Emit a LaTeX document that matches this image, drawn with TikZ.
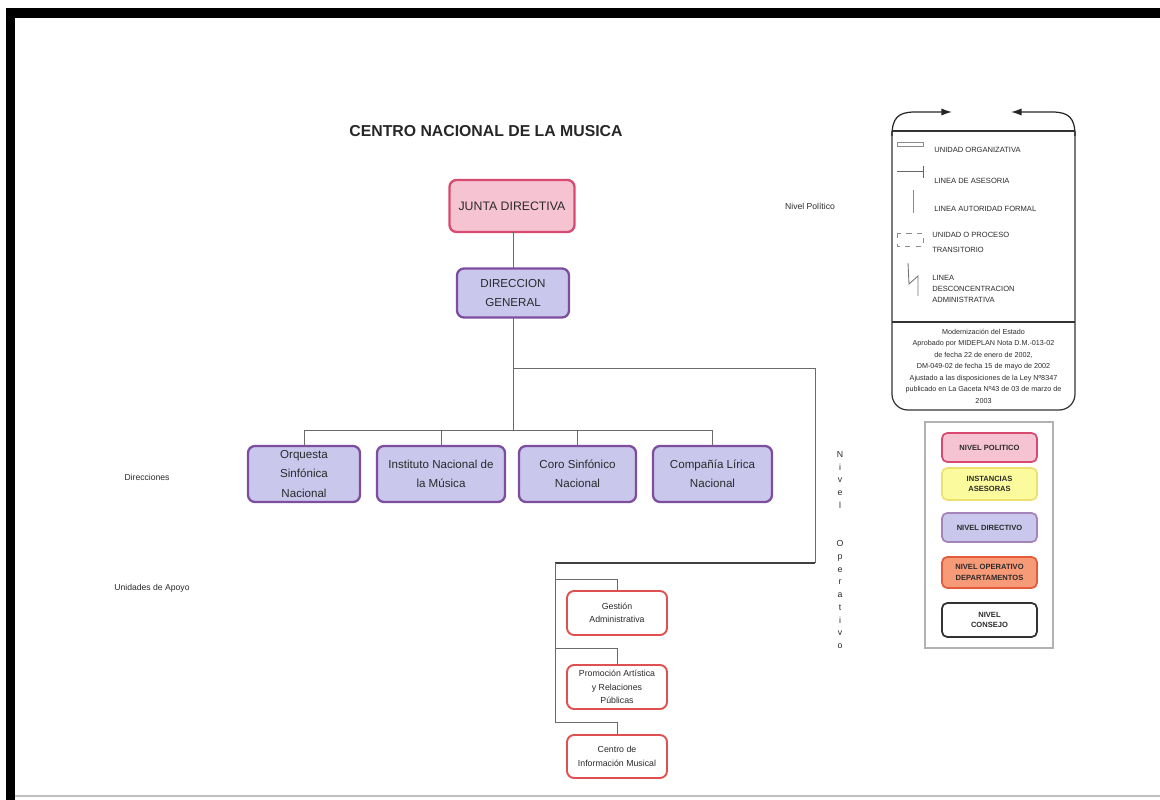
\documentclass[tikz,border=0pt]{standalone}
\usepackage{fontspec}
\setmainfont{Liberation Sans}
\usetikzlibrary{arrows.meta}
\newcommand\pxu{0.02cm}
\definecolor{pinkfill}{HTML}{F6C3D3}
\definecolor{pinkdraw}{HTML}{D84A72}
\definecolor{lavfill}{HTML}{C9C7EC}
\definecolor{lavdraw}{HTML}{7E4E9E}
\definecolor{reddraw}{HTML}{E05050}
\definecolor{yelfill}{HTML}{FBFB9E}
\definecolor{yeldraw}{HTML}{EEE070}
\definecolor{orgfill}{HTML}{F79A78}
\definecolor{orgdraw}{HTML}{E55A3A}
\definecolor{linec}{HTML}{6A6A6A}
\definecolor{txt}{HTML}{2A2A2A}
\tikzset{
  base/.style={rounded corners=4pt, align=center, inner sep=1pt, outer sep=0pt, text=txt},
  jdbox/.style={base, draw=pinkdraw, fill=pinkfill, line width=1.3pt, font=\fontsize{7}{11}\selectfont},
  dirbox/.style={base, draw=lavdraw, fill=lavfill, line width=1.3pt, font=\fontsize{6.6}{11}\selectfont},
  redbox/.style={base, draw=reddraw, fill=white, line width=1.1pt, font=\fontsize{5}{7.6}\selectfont},
  conn/.style={draw=linec, line width=0.5pt},
  small/.style={text=txt, inner sep=0pt, font=\fontsize{4.9}{6}\selectfont},
  legtxt/.style={text=txt, inner sep=0pt, anchor=west, align=left, font=\fontsize{4.3}{8.3}\selectfont},
  legbox/.style={base, rounded corners=3pt, line width=1pt, minimum width=95*\pxu, font=\bfseries\fontsize{4.3}{6}\selectfont},
}
\begin{document}
\begin{tikzpicture}[x=0.02cm,y=-0.02cm]
\useasboundingbox (0,0) rectangle (1160,800);
% frame
\fill[black] (6,8) rectangle (1160,18);
\fill[black] (6,8) rectangle (15,800);
\draw[black!25, line width=0.6pt] (15,796) -- (1160,796);

% title
\node[text=black!85, font=\bfseries\fontsize{9}{10}\selectfont] (title) at (486,131) {CENTRO NACIONAL DE LA MUSICA};

% main boxes
\node[jdbox, minimum width=125*\pxu, minimum height=52*\pxu] (jd) at (512,206) {JUNTA DIRECTIVA};
\node[dirbox, minimum width=112*\pxu, minimum height=49*\pxu] (dg) at (513,293) {DIRECCION\\GENERAL};

\node[dirbox, minimum width=112*\pxu, minimum height=56*\pxu] (orq) at (304,474) {Orquesta\\Sinfónica\\Nacional};
\node[dirbox, minimum width=128*\pxu, minimum height=56*\pxu] (ins) at (441,474) {Instituto Nacional de\\la Música};
\node[dirbox, minimum width=117*\pxu, minimum height=56*\pxu] (coro) at (577.5,474) {Coro Sinfónico\\Nacional};
\node[dirbox, minimum width=119*\pxu, minimum height=56*\pxu] (cia) at (712.5,474) {Compañía Lírica\\Nacional};

\node[redbox, minimum width=100*\pxu, minimum height=44*\pxu] (ga) at (617,613) {Gestión\\Administrativa};
\node[redbox, minimum width=100*\pxu, minimum height=44*\pxu] (pa) at (617,687) {Promoción Artística\\y Relaciones\\Públicas};
\node[redbox, minimum width=100*\pxu, minimum height=43*\pxu] (ci) at (617,756.5) {Centro de\\Información Musical};

% connector coordinates
\coordinate (bus) at (513,430);
\coordinate (r1) at (815,368);
\coordinate (r2) at (815,563);
\coordinate (l1) at (555,563);
\coordinate (b1) at (555,579);
\coordinate (b2) at (555,648);
\coordinate (b3) at (555,722);

\draw[conn] (jd.south) -- (dg.south |- jd.south) -- (dg.north);
\draw[conn] (dg.south) -- (bus);
\draw[conn] (bus -| orq.north) -- (bus -| cia.north);
\draw[conn] (bus -| orq.north) -- (orq.north);
\draw[conn] (bus -| ins.north) -- (ins.north);
\draw[conn] (bus -| coro.north) -- (coro.north);
\draw[conn] (bus -| cia.north) -- (cia.north);
\draw[conn] (dg.south |- r1) -- (r1) -- (r2);
\draw[draw=black!75, line width=0.8pt] (r2) -- (l1);
\draw[conn] (l1) -- (b3);
\draw[conn] (b1) -| (ga.north);
\draw[conn] (b2) -| (pa.north);
\draw[conn] (b3) -| (ci.north);

% side labels
\node[small] (ldir) at (147,477) {Direcciones};
\node[small] (lapo) at (152,588) {Unidades de Apoyo};
\node[small] (lpol) at (810,206) {Nivel Político};
\node[small, align=center, font=\fontsize{5}{7.25}\selectfont] (lop) at (840,550)
  {N\\i\\v\\e\\l\\[14.5pt]O\\p\\e\\r\\a\\t\\i\\v\\o};

% legend 1
\draw[black!80, line width=0.7pt, rounded corners=9pt] (892,131) -- (892,410) -- (1075,410) -- (1075,131);
\draw[black!80, line width=0.7pt] (892,131) -- (1075,131);
\draw[black!80, line width=0.7pt] (892,322) -- (1075,322);
\draw[black!85, line width=0.7pt, -{Latex[length=6pt,width=4pt]}] (892,136) .. controls (892,118) and (898,112) .. (915,112) -- (952,112);
\draw[black!85, line width=0.7pt, -{Latex[length=6pt,width=4pt]}] (1075,136) .. controls (1075,118) and (1069,112) .. (1052,112) -- (1011,112);

% legend symbols
\draw[black!45, line width=0.4pt] (897,142) rectangle (923,146);
\draw[black!60, line width=0.5pt] (897,171) -- (923,171);
\draw[black!60, line width=0.5pt] (923,166) -- (923,178);
\draw[black!45, line width=0.5pt] (913,190) -- (913,213);
\draw[black!45, line width=0.4pt, dashed] (897,233) rectangle (923,246);
\draw[black!55, line width=0.5pt] (908,263) -- (909,284) -- (918,276) -- (918,296);

\node[legtxt] (t1) at (934,150) {UNIDAD ORGANIZATIVA};
\node[legtxt] (t2) at (934,181) {LINEA DE ASESORIA};
\node[legtxt] (t3) at (934,209) {LINEA AUTORIDAD FORMAL};
\node[legtxt, anchor=north west] (t4) at (932,232) {UNIDAD O PROCESO\\TRANSITORIO};
\node[legtxt, anchor=north west, font=\fontsize{4.3}{6.2}\selectfont] (t5) at (932,275) {LINEA\\DESCONCENTRACION\\ADMINISTRATIVA};

\node[text=txt, inner sep=0pt, align=center, font=\fontsize{4.1}{6.55}\selectfont] (t6) at (983.5,366)
  {Modernización del Estado\\Aprobado por MIDEPLAN Nota D.M.-013-02\\de fecha 22 de enero de 2002,\\DM-049-02 de fecha 15 de mayo de 2002\\Ajustado a las disposiciones de la Ley Nº8347\\publicado en La Gaceta Nº43 de 03 de marzo de\\2003};

% legend 2
\draw[black!30, line width=0.6pt] (925,422) rectangle (1053,648);
\node[legbox, draw=pinkdraw, fill=pinkfill, minimum height=29*\pxu] (lp) at (989.5,447.5) {NIVEL POLITICO};
\node[legbox, draw=yeldraw, fill=yelfill, minimum height=32*\pxu] (la) at (989.5,484) {INSTANCIAS\\ASESORAS};
\node[legbox, draw=lavdraw!70, fill=lavfill, minimum height=29*\pxu] (ld) at (989.5,527.5) {NIVEL DIRECTIVO};
\node[legbox, draw=orgdraw, fill=orgfill, minimum height=31*\pxu] (lo) at (989.5,572.5) {NIVEL OPERATIVO\\DEPARTAMENTOS};
\node[legbox, draw=black!80, fill=white, minimum height=34*\pxu] (lc) at (989.5,620) {NIVEL\\CONSEJO};
\end{tikzpicture}
\end{document}
